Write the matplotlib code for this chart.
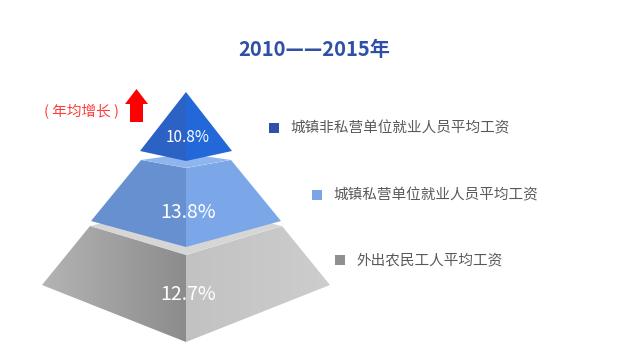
import numpy as np
import matplotlib.pyplot as plt
from matplotlib.patches import Polygon

plt.rcParams['font.family'] = ['Noto Sans CJK SC', 'DejaVu Sans']

# data
title = '2010——2015年'
categories = ['城镇非私营单位就业人员平均工资', '城镇私营单位就业人员平均工资', '外出农民工人平均工资']
growth = [10.8, 13.8, 12.7]
note = '( 年均增长 )'

# styles (top tier -> bottom tier)
left_colors = ['#2c62c4', '#6790d0', '#a2a2a2']
right_colors = ['#2268d8', '#7ba7e8', '#c6c6c6']
top_colors = [None, '#8fb5ee', '#d6d6d6']
legend_colors = ['#2f52a8', '#7aa6e8', '#8f8f8f']
label_sizes = [11, 14, 14]

# pyramid geometry in pixels: (side y, half width, front drop) for tier top / bottom
cx = 186
tiers = [
    ((92, 0, 0), (151, 46, 10)),
    ((160, 45, 8), (221, 95, 26)),
    ((226, 96, 29), (285, 144, 57)),
]
legend_pos = [(274, 128), (317, 195), (340, 260)]

fig = plt.figure(figsize=(6.4, 3.62), dpi=100)
ax = fig.add_axes([0, 0, 1, 1])
ax.set_xlim(0, 640)
ax.set_ylim(362, 0)
ax.axis('off')


def gradient_face(pts, c1, c2, z):
    poly = Polygon(pts, closed=True, facecolor='none', edgecolor='none', zorder=z)
    ax.add_patch(poly)
    xs = [p[0] for p in pts]
    ys = [p[1] for p in pts]
    grad = np.linspace(0, 1, 256).reshape(1, -1)
    c1 = np.array(plt.matplotlib.colors.to_rgb(c1))
    c2 = np.array(plt.matplotlib.colors.to_rgb(c2))
    img = c1[None, None, :] * (1 - grad[..., None]) + c2[None, None, :] * grad[..., None]
    im = ax.imshow(img, extent=(min(xs), max(xs), max(ys), min(ys)),
                   aspect='auto', zorder=z, interpolation='bilinear')
    im.set_clip_path(poly)


# draw bottom tier first so upper tiers overlap it
for i in reversed(range(len(tiers))):
    (yt, ht, dt), (yb, hb, db) = tiers[i]
    z = 2 + (len(tiers) - i) * 3
    if top_colors[i] is not None:
        top = [(cx - ht, yt), (cx, yt - dt * 0.8), (cx + ht, yt), (cx, yt + dt)]
        ax.add_patch(Polygon(top, closed=True, facecolor=top_colors[i],
                             edgecolor='none', zorder=z))
        ax.plot([cx - ht, cx, cx + ht], [yt + 1, yt + dt + 1, yt + 1],
                color='white', lw=1.6, alpha=0.8, zorder=z + 0.5)
    left = [(cx - ht, yt), (cx, yt + dt), (cx, yb + db), (cx - hb, yb)]
    right = [(cx + ht, yt), (cx, yt + dt), (cx, yb + db), (cx + hb, yb)]
    if i == 2:
        gradient_face(left, '#b4b4b4', '#8c8c8c', z + 1)
        gradient_face(right, '#c2c2c2', '#cdcdcd', z + 1)
    else:
        ax.add_patch(Polygon(left, closed=True, facecolor=left_colors[i],
                             edgecolor='none', zorder=z + 1))
        ax.add_patch(Polygon(right, closed=True, facecolor=right_colors[i],
                             edgecolor='none', zorder=z + 1))
    ymid = (yt + dt * 0.5 + yb + db * 0.5) / 2 + (18 if i == 2 else 14)
    ax.text(cx + 2, ymid, f'{growth[i]}%', color='white',
            fontsize=label_sizes[i], ha='center', va='center', zorder=20)

# legend
for (lx, ly), name, col in zip(legend_pos, categories, legend_colors):
    ax.add_patch(Polygon([(lx - 5, ly - 5), (lx + 5, ly - 5), (lx + 5, ly + 5), (lx - 5, ly + 5)],
                         closed=True, facecolor=col, edgecolor='none'))
    ax.text(lx + 16, ly, name, color='#595959', fontsize=10.5, ha='left', va='center')

# title
ax.text(314, 50, title, color='#2f50a6', fontsize=14.5, fontweight='bold',
        ha='center', va='center')

# red note and arrow
ax.text(82, 112, note, color='#ff3b3b', fontsize=10.5, ha='center', va='center')
ax.add_patch(Polygon([(130, 122), (130, 104), (125, 104), (136.5, 89), (148, 104),
                      (143, 104), (143, 122)], closed=True, facecolor='#ff0000',
                     edgecolor='none'))

fig.savefig('out.png', dpi=100)
